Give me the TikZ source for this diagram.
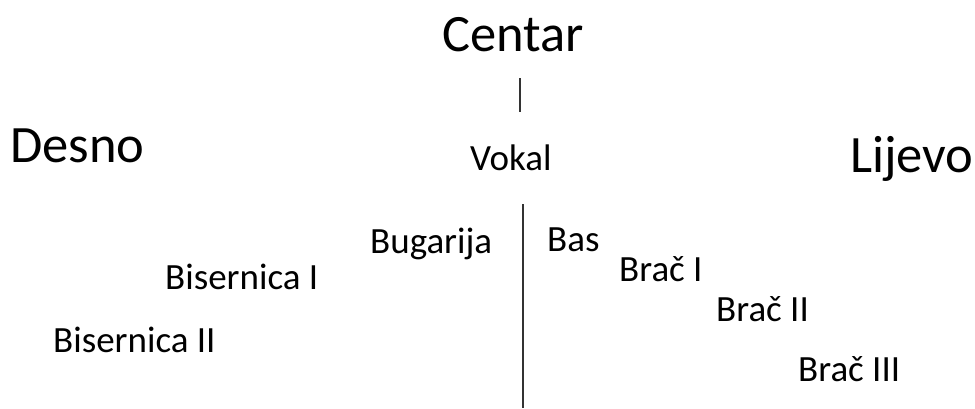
\documentclass[tikz,border=0pt]{standalone}
\usepackage{fontspec}
\setmainfont{Carlito}
\begin{document}
\begin{tikzpicture}[x=1pt,y=-1pt,
  big/.style={anchor=base west,inner sep=0pt,font=\fontsize{52.5}{60}\selectfont},
  small/.style={anchor=base west,inner sep=0pt,font=\fontsize{37}{42}\selectfont},
  rule/.style={draw=black!80,line width=1.2pt}]
\useasboundingbox[fill=white] (0,0) rectangle (975,408);
\node[big] (centar) at (442,51) {Centar};
\node[big] (desno) at (10,162) {Desno};
\node[big] (lijevo) at (850,172) {Lijevo};
\node[small] (vokal) at (470,170) {Vokal};
\node[small] (bugarija) at (370,253) {Bugarija};
\node[small] (bas) at (547,251) {Bas};
\node[small] (bisI) at (165,289) {Bisernica I};
\node[small] (bracI) at (619,281) {Brač I};
\node[small] (bracII) at (716,321) {Brač II};
\node[small] (bisII) at (53,352) {Bisernica II};
\node[small] (bracIII) at (798,381) {Brač III};
\coordinate (a1) at (520,78);
\coordinate (a2) at (520,112);
\coordinate (b1) at (523,204);
\coordinate (b2) at (523,408);
\draw[rule] (a1) -- (a2);
\draw[rule] (b1) -- (b2);
\end{tikzpicture}
\end{document}
